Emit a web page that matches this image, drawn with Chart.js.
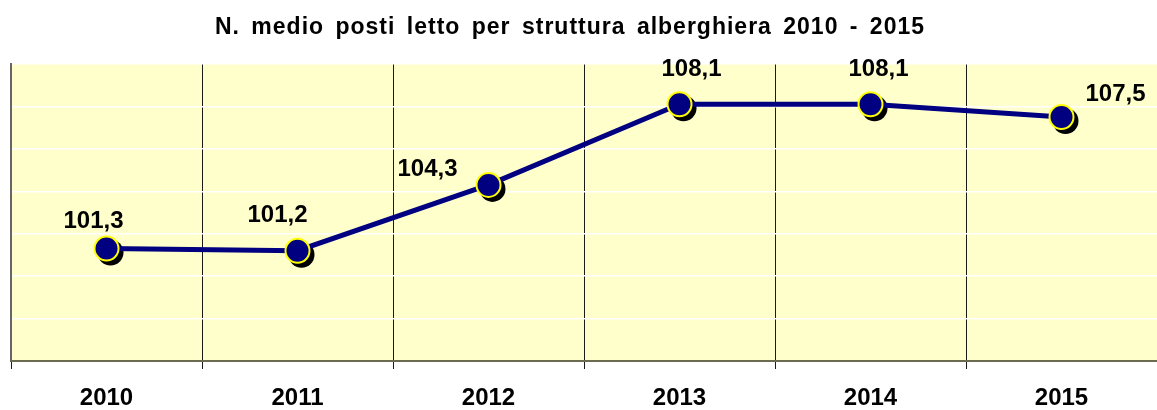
<html>

<head>
    <title>N. medio posti letto per struttura alberghiera</title>
    <script src="https://cdn.jsdelivr.net/npm/chart.js"></script>
    <style>
        body { margin: 0; background: #ffffff; }
        #wrap { width: 1157px; height: 410px; }
    </style>
</head>

<body>
    <div id="wrap">
        <canvas id="myChart" width="1157" height="410"></canvas>
    </div>

    <script>
        // data
        const years = ['2010', '2011', '2012', '2013', '2014', '2015'];
        const bedsPerHotel = [101.3, 101.2, 104.3, 108.1, 108.1, 107.5];
        const yTicks = [96, 98, 100, 102, 104, 106, 108, 110];
        const chartTitle = 'N. medio posti letto per struttura alberghiera 2010 - 2015';

        // where each value label sits relative to its point (dx, dy)
        const labelOffsets = [[-13, -29], [-20, -37], [-61, -17], [12, -37], [8, -37], [54, -25]];

        const FONT = "'Liberation Sans', Arial, sans-serif";

        // pale yellow plot area
        const plotBackground = {
            id: 'plotBackground',
            beforeDraw(chart) {
                const { ctx, chartArea: a } = chart;
                ctx.save();
                ctx.fillStyle = '#FFFFCC';
                ctx.fillRect(a.left, a.top, a.right - a.left, a.bottom - a.top);
                ctx.restore();
            }
        };

        // title drawn by hand so it can be spaced out like the original
        const spacedTitle = {
            id: 'spacedTitle',
            afterDraw(chart) {
                const ctx = chart.ctx;
                ctx.save();
                ctx.font = 'bold 23px ' + FONT;
                ctx.fillStyle = '#000000';
                ctx.textAlign = 'center';
                ctx.textBaseline = 'alphabetic';
                ctx.letterSpacing = '1px';
                ctx.wordSpacing = '4px';
                ctx.fillText(chartTitle, 570, 34);
                ctx.restore();
            }
        };

        // black drop shadow under the markers
        const markerShadow = {
            id: 'markerShadow',
            beforeDatasetsDraw(chart) {
                const ctx = chart.ctx;
                const meta = chart.getDatasetMeta(0);
                ctx.save();
                ctx.fillStyle = '#000000';
                meta.data.forEach(function (pt) {
                    ctx.beginPath();
                    ctx.arc(pt.x + 4, pt.y + 4, 13, 0, Math.PI * 2);
                    ctx.fill();
                });
                ctx.restore();
            }
        };

        // value labels with italian decimal comma
        const valueLabels = {
            id: 'valueLabels',
            afterDatasetsDraw(chart) {
                const ctx = chart.ctx;
                const meta = chart.getDatasetMeta(0);
                ctx.save();
                ctx.font = 'bold 24px ' + FONT;
                ctx.fillStyle = '#000000';
                ctx.textAlign = 'center';
                ctx.textBaseline = 'alphabetic';
                meta.data.forEach(function (pt, i) {
                    const txt = bedsPerHotel[i].toFixed(1).replace('.', ',');
                    const off = labelOffsets[i];
                    ctx.fillText(txt, pt.x + off[0], pt.y + off[1] + 8.5);
                });
                ctx.restore();
            }
        };

        const data = {
            labels: years,
            datasets: [
                {
                    label: 'Posti letto',
                    data: bedsPerHotel,
                    borderColor: '#000080',
                    borderWidth: 5,
                    backgroundColor: '#000080',
                    pointRadius: 12,
                    pointBorderWidth: 2,
                    pointBackgroundColor: '#000080',
                    pointBorderColor: '#FFFF00',
                    tension: 0,
                    clip: false
                }
            ]
        };

        const config = {
            type: 'line',
            data: data,
            options: {
                responsive: false,
                animation: false,
                layout: {
                    autoPadding: false,
                    padding: { left: 11, right: 0, top: 64, bottom: -18 }
                },
                scales: {
                    x: {
                        offset: true,
                        grid: {
                            offset: true,
                            color: '#1a1a1a',
                            lineWidth: 1,
                            tickLength: 8
                        },
                        border: { display: true, color: '#6b6b50', width: 2 },
                        ticks: {
                            color: '#000000',
                            padding: 17.5,
                            font: { family: FONT, size: 24, weight: 'bold', lineHeight: 1 }
                        }
                    },
                    y: {
                        min: yTicks[0],
                        max: yTicks[yTicks.length - 1],
                        afterBuildTicks(axis) {
                            axis.ticks = yTicks.map(v => ({ value: v }));
                        },
                        grid: {
                            color: '#FFFFFF',
                            lineWidth: 1.5,
                            drawTicks: false
                        },
                        border: { display: true, color: '#666666', width: 2 },
                        ticks: { display: false }
                    }
                },
                plugins: {
                    legend: { display: false },
                    tooltip: { enabled: false },
                    title: { display: false }
                }
            },
            plugins: [plotBackground, markerShadow, valueLabels, spacedTitle]
        };
    </script>

    <script>
        const myChart = new Chart(
            document.getElementById('myChart'),
            config
        );
    </script>

</body>

</html>
